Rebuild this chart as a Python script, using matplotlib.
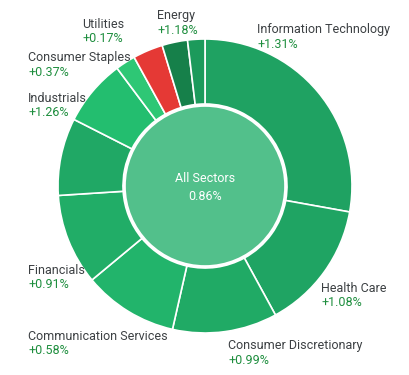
import matplotlib.pyplot as plt

# Sektör ağırlıkları (saat yönünde, tepeden başlayarak)
sectors = ["Information Technology", "Health Care", "Consumer Discretionary",
           "Communication Services", "Financials", "Other", "Industrials",
           "Consumer Staples", "Real Estate", "Energy", "Materials"]
weights = [27.8, 14.2, 11.5, 10.4, 10.0, 8.5, 7.3, 2.2, 3.3, 2.8, 1.9]
colors = ["#1fa262", "#1fa463", "#20aa65", "#22b46b", "#21ad67", "#20a865",
          "#23be6f", "#2ec775", "#e53935", "#16804a", "#1c9a5b"]

# Etiketler ve değişimler
label_names = ["Information Technology", "Energy", "Utilities", "Consumer Staples",
               "Industrials", "Financials", "Communication Services",
               "Consumer Discretionary", "Health Care"]
label_changes = ["+1.31%", "+1.18%", "+0.17%", "+0.37%", "+1.26%", "+0.91%",
                 "+0.58%", "+0.99%", "+1.08%"]
label_pos = [(257, 30), (157, 16), (82, 25), (28, 58), (28, 99), (28, 271),
             (28, 336), (228, 346), (321, 288)]

total_label = "All Sectors"
total_change = "0.86%"

plt.rcParams['font.family'] = ['Roboto', 'DejaVu Sans']

fig = plt.figure(figsize=(4.1, 3.75), dpi=100)
ax = fig.add_axes([0, 0, 1, 1])
ax.axis('off')

cx, cy = 205, 186
# y ekseni ters olduğu için counterclock=True saat yönünde çizer
ax.pie(weights, colors=colors, startangle=-90, counterclock=True,
       radius=147, center=(cx, cy),
       wedgeprops=dict(width=65, edgecolor='white', linewidth=1.2))
ax.set_xlim(0, 410)
ax.set_ylim(375, 0)
ax.set_aspect('equal')

center = plt.Circle((cx, cy), 80, facecolor="#52c08b", edgecolor='white', linewidth=1.2)
ax.add_patch(center)
ax.text(cx, cy - 7, total_label, color='white', ha='center', va='center', fontsize=9)
ax.text(cx, cy + 10, total_change, color='white', ha='center', va='center', fontsize=9)

for name, chg, (x, y) in zip(label_names, label_changes, label_pos):
    ax.text(x, y, name, color='#3c4043', ha='left', va='center', fontsize=9)
    ax.text(x, y + 14, chg, color='#1e8e3e', ha='left', va='center', fontsize=9)

plt.savefig('out.png', dpi=100)
